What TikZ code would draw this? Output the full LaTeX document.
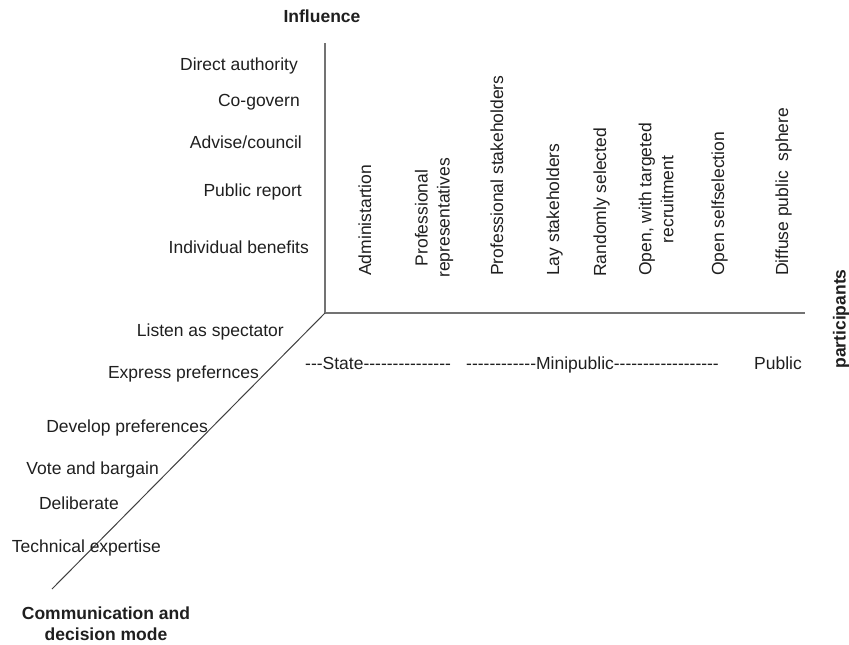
\documentclass[tikz,border=0pt]{standalone}
\usepackage{fontspec}
\setmainfont{Liberation Sans}[Ligatures=TeXOff]
\begin{document}
\begin{tikzpicture}[x=1pt,y=-1pt,
  lab/.style={inner sep=0pt,text=black!88,font=\fontsize{17.5}{22}\selectfont},
  axlab/.style={lab,font=\fontsize{17.5}{21}\selectfont\bfseries},
  lft/.style={lab,anchor=base east},
  vert/.style={lab,rotate=90,anchor=base west},
  vertwo/.style={lab,rotate=90,anchor=west,align=center},
  axisline/.style={draw=black!55,line width=1.8pt},
  diagline/.style={draw=black!75,line width=1pt}]
\useasboundingbox (0,0) rectangle (849,645);

% axes
\coordinate (O) at (325,313);
\coordinate (top) at (325,43);
\coordinate (right) at (805,313);
\coordinate (bottom) at (52,589);
\draw[axisline] (top) -- (O) -- (right);
\draw[diagline] (O) -- (bottom);

% axis titles
\node[axlab,anchor=base] (influence) at (322,22) {Influence};
\node[axlab,rotate=90,anchor=center] (participants) at (841,319) {participants};
\node[axlab,anchor=base,align=center] (mode) at (106,640) {Communication and\\decision mode};

% influence levels
\node[lft] (da) at (298,70) {Direct authority};
\node[lft] (cg) at (300,106) {Co-govern};
\node[lft] (ac) at (302,148) {Advise/council};
\node[lft] (pr) at (302,196) {Public report};
\node[lft] (ib) at (309,253) {Individual benefits};

% participant categories
\node[vert] (adm) at (371,276) {Administartion};
\node[vertwo] (prep) at (434,278) {Professional\\representatives};
\node[vert] (pst) at (503,276) {Professional stakeholders};
\node[vert] (lay) at (559,276) {Lay stakeholders};
\node[vert] (rnd) at (606,277) {Randomly selected};
\node[vertwo] (otr) at (656,276) {Open, with targeted\\recruitment};
\node[vert] (osel) at (724,276) {Open selfselection};
\node[vert] (dps) at (788,276) {Diffuse public\ \ sphere};

% participant groups
\node[lab,anchor=base west] (state) at (305,369) {---State---------------};
\node[lab,anchor=base west] (mini) at (466,369) {------------Minipublic------------------};
\node[lab,anchor=base west] (pub) at (754,369) {Public};

% communication and decision modes
\node[lft] (las) at (284,336) {Listen as spectator};
\node[lft] (exp) at (259,378) {Express prefernces};
\node[lft] (dev) at (208,432) {Develop preferences};
\node[lft] (vab) at (159,474) {Vote and bargain};
\node[lft] (del) at (119,509) {Deliberate};
\node[lft] (tec) at (161,552) {Technical expertise};
\end{tikzpicture}
\end{document}
